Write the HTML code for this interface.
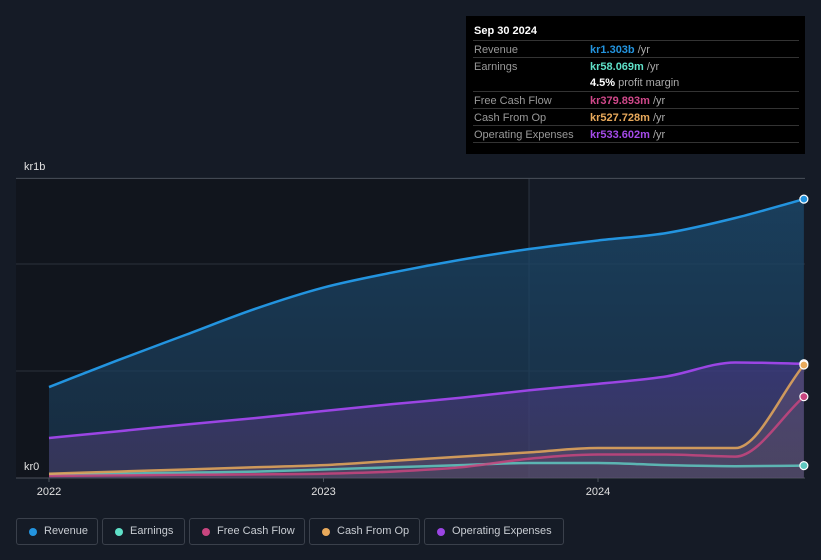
<!DOCTYPE html>
<html><head><meta charset="utf-8"><style>
body{margin:0;background:#151b26;font-family:"Liberation Sans",sans-serif;}
#wrap{position:relative;width:821px;height:560px;overflow:hidden;background:#151b26;}
#tip{position:absolute;left:466px;top:16px;width:339px;height:138px;background:#000;color:#fff;font-size:11px;}
#tip .row{position:absolute;left:7px;width:326px;height:17px;border-top:1px solid #333;}
#tip .l{position:absolute;left:1px;top:3px;color:#999;}
#tip .v{position:absolute;left:117px;top:3px;font-weight:bold;}
#tip .u{color:#aaa;font-weight:normal;}
.leg{position:absolute;top:518px;height:27px;border:1px solid #3a404b;border-radius:3px;box-sizing:border-box;color:#c8ccd2;font-size:11px;line-height:25px;}
.leg i{position:absolute;left:12px;top:9px;width:8px;height:8px;border-radius:50%;}
.leg span{position:absolute;left:27px;}
</style></head><body>
<div id="wrap">
<svg id="svg" width="821" height="505" style="position:absolute;left:0;top:0">
<defs>
<linearGradient id="gRev" x1="0" y1="0" x2="0" y2="1"><stop offset="0" stop-color="#1b4a6e" stop-opacity="0.75"/><stop offset="1" stop-color="#1b3a55" stop-opacity="0.6"/></linearGradient>
<linearGradient id="gOp" x1="0" y1="0" x2="0" y2="1"><stop offset="0" stop-color="#5a3aa0" stop-opacity="0.45"/><stop offset="1" stop-color="#6a4a80" stop-opacity="0.35"/></linearGradient>
</defs>
<rect x="16" y="178" width="513" height="300" fill="#11151d"/>
<line x1="529" y1="178" x2="529" y2="478" stroke="#2a3340" stroke-width="1"/>
<g id="grid"></g>
<g id="series"></g>
<g id="axis"></g>
<text x="24" y="170" fill="#e0e0e0" font-size="11">kr1b</text>
<text x="24" y="470" fill="#e0e0e0" font-size="11">kr0</text>
</svg>
<div id="tip">
<div style="position:absolute;left:8px;top:9px;font-weight:bold;color:#fff">Sep 30 2024</div>
<div class="row" style="top:24px"><span class="l">Revenue</span><span class="v" style="color:#2394df">kr1.303b <span class="u">/yr</span></span></div>
<div class="row" style="top:41px"><span class="l">Earnings</span><span class="v" style="color:#5fe0c8">kr58.069m <span class="u">/yr</span></span></div>
<div class="row" style="top:58px;border-top:none"><span class="v" style="color:#fff">4.5% <span class="u">profit margin</span></span></div>
<div class="row" style="top:75px"><span class="l">Free Cash Flow</span><span class="v" style="color:#d0488a">kr379.893m <span class="u">/yr</span></span></div>
<div class="row" style="top:92px"><span class="l">Cash From Op</span><span class="v" style="color:#e8a95b">kr527.728m <span class="u">/yr</span></span></div>
<div class="row" style="top:109px"><span class="l">Operating Expenses</span><span class="v" style="color:#a44ae8">kr533.602m <span class="u">/yr</span></span></div>
<div class="row" style="top:126px;height:0"></div>
</div>
<div class="leg" style="left:16px;width:82px"><i style="background:#2394df"></i><span>Revenue</span></div>
<div class="leg" style="left:102px;width:83px"><i style="background:#5fe0c8"></i><span>Earnings</span></div>
<div class="leg" style="left:189px;width:116px"><i style="background:#c8457f"></i><span>Free Cash Flow</span></div>
<div class="leg" style="left:309px;width:111px"><i style="background:#e8a95b"></i><span>Cash From Op</span></div>
<div class="leg" style="left:424px;width:140px"><i style="background:#9b45e4"></i><span>Operating Expenses</span></div>
</div>
<script>
const quarters=[2022.0,2022.25,2022.5,2022.75,2023.0,2023.25,2023.5,2023.75,2024.0,2024.25,2024.5,2024.75];
const revenue=[0.425,0.55,0.67,0.79,0.89,0.96,1.02,1.07,1.11,1.145,1.215,1.303];
const opex=[0.187,0.218,0.25,0.28,0.313,0.345,0.375,0.41,0.44,0.475,0.54,0.534];
const cfo=[0.02,0.03,0.04,0.05,0.06,0.08,0.10,0.12,0.14,0.14,0.14,0.528];
const fcf=[0.01,0.012,0.015,0.017,0.02,0.03,0.05,0.09,0.11,0.11,0.10,0.38];
const earnings=[0.015,0.02,0.025,0.03,0.04,0.05,0.06,0.07,0.07,0.06,0.055,0.058];
const yTicks=[0,0.5,1,1.4];
const xTicks=[2022,2023,2024];
const X=t=>49+(t-2022)*274.5;
const Y=v=>478-v*214;
const NS='http://www.w3.org/2000/svg';
function mk(tag,attrs,parent){const e=document.createElementNS(NS,tag);for(const k in attrs)e.setAttribute(k,attrs[k]);parent.appendChild(e);return e;}
function path(vals){const p=vals.map((v,i)=>[X(quarters[i]),Y(v)]);const n=p.length;
const d=[],m=[];for(let i=0;i<n-1;i++)d.push((p[i+1][1]-p[i][1])/(p[i+1][0]-p[i][0]));
m[0]=d[0];m[n-1]=d[n-2];for(let i=1;i<n-1;i++){m[i]=(d[i-1]*d[i]<=0)?0:(d[i-1]+d[i])/2;}
for(let i=0;i<n-1;i++){if(d[i]===0){m[i]=0;m[i+1]=0;continue;}const a=m[i]/d[i],b=m[i+1]/d[i],s=a*a+b*b;if(s>9){const t=3/Math.sqrt(s);m[i]=t*a*d[i];m[i+1]=t*b*d[i];}}
let s='M'+p[0][0]+','+p[0][1];
for(let i=0;i<n-1;i++){const h=(p[i+1][0]-p[i][0])/3;s+=' C'+(p[i][0]+h)+','+(p[i][1]+m[i]*h)+' '+(p[i+1][0]-h)+','+(p[i+1][1]-m[i+1]*h)+' '+p[i+1][0]+','+p[i+1][1];}
return s;}
const grid=document.getElementById('grid'),ser=document.getElementById('series'),ax=document.getElementById('axis');
yTicks.forEach(v=>{const l=mk('line',{x1:16,x2:805,y1:Y(v),y2:Y(v),stroke:v===1.4||v===0?'#4a505a':'#2a313c','stroke-width':1},grid);

});
xTicks.forEach(t=>{const tx=mk('text',{x:X(t),y:495,fill:'#e0e0e0','font-size':11,'text-anchor':'middle'},ax);tx.textContent=t;


const tk=mk('line',{x1:X(t),x2:X(t),y1:478,y2:482,stroke:'#4a505a'},ax);

});
const x0=X(quarters[0]),x1=X(quarters[quarters.length-1]);
const ar=mk('path',{d:path(revenue)+' L'+x1+',478 L'+x0+',478 Z',fill:'url(#gRev)'},ser);


const ao=mk('path',{d:path(opex)+' L'+x1+',478 L'+x0+',478 Z',fill:'url(#gOp)'},ser);


const af=mk('path',{d:path(cfo)+' L'+x1+',478 L'+x0+',478 Z',fill:'#8a6a80','fill-opacity':0.25},ser);


const list=[['revenue-line',revenue,'#2394df'],['opex-line',opex,'#9b45e4'],['earnings-line',earnings,'#5fc8c0'],['fcf-line',fcf,'#c8457f'],['cfo-line',cfo,'#e8a95b']];
list.forEach(([n,vals,c])=>{const l=mk('path',{d:path(vals),fill:'none',stroke:c,'stroke-width':2.5,'stroke-opacity':n==='revenue-line'||n==='opex-line'?1:0.85},ser);


const d=mk('circle',{cx:X(quarters[quarters.length-1]),cy:Y(vals[vals.length-1]),r:4,fill:c,stroke:'#fff','stroke-width':1.2},ser);

});
</script>
</body></html>
